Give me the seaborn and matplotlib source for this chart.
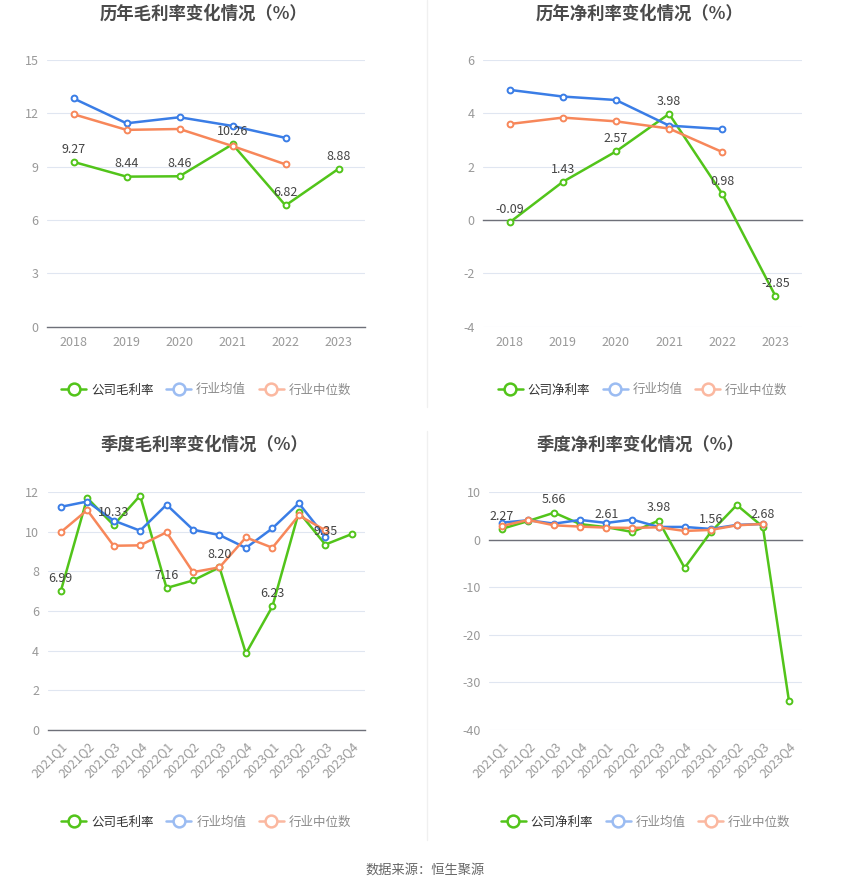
import matplotlib
matplotlib.use("Agg")
import matplotlib.pyplot as plt
from matplotlib.lines import Line2D
import seaborn as sns
import pandas as pd

years = ["2018", "2019", "2020", "2021", "2022", "2023"]
quarters = ["2021Q1", "2021Q2", "2021Q3", "2021Q4",
            "2022Q1", "2022Q2", "2022Q3", "2022Q4",
            "2023Q1", "2023Q2", "2023Q3", "2023Q4"]

# annual gross margin
gross_company = [9.27, 8.44, 8.46, 10.26, 6.82, 8.88]
gross_mean = [12.84, 11.44, 11.78, 11.29, 10.62]
gross_median = [11.95, 11.07, 11.12, 10.16, 9.13]

# annual net margin
net_company = [-0.09, 1.43, 2.57, 3.98, 0.98, -2.85]
net_mean = [4.88, 4.63, 4.50, 3.54, 3.41]
net_median = [3.60, 3.84, 3.70, 3.43, 2.55]

# quarterly gross margin
q_gross_company = [6.99, 11.70, 10.33, 11.82, 7.16, 7.54, 8.20, 3.86, 6.23, 10.99, 9.35, 9.88]
q_gross_mean = [11.25, 11.52, 10.56, 10.05, 11.36, 10.10, 9.83, 9.18, 10.17, 11.43, 9.75]
q_gross_median = [9.97, 11.09, 9.29, 9.31, 9.97, 7.96, 8.20, 9.71, 9.19, 10.82, 10.07]

# quarterly net margin
q_net_company = [2.27, 3.90, 5.66, 3.25, 2.61, 1.60, 3.98, -5.94, 1.56, 7.27, 2.68, -33.90]
q_net_mean = [3.57, 4.06, 3.36, 4.13, 3.50, 4.20, 2.66, 2.66, 2.24, 3.08, 3.29]
q_net_median = [2.87, 4.13, 3.00, 2.73, 2.52, 2.45, 2.59, 1.82, 2.03, 3.00, 3.29]

GREEN = "#52c41a"
BLUE = "#3a7de6"
ORANGE = "#f7875a"

sns.set_style("white")
plt.rcParams['font.family'] = ['Noto Sans CJK SC', 'DejaVu Sans']
plt.rcParams['axes.unicode_minus'] = False

W, H = 850, 891
fig = plt.figure(figsize=(W / 100, H / 100), dpi=100)


def box(left, top, right, bottom):
    return [left / W, 1 - bottom / H, (right - left) / W, (bottom - top) / H]


def panel(rect, periods, company, mean, median, names, yticks, labeled, rotate, legend_y):
    ax = fig.add_axes(rect)
    rows = []
    for name, vals in zip(names, [company, mean, median]):
        for p, v in zip(periods, vals):
            rows.append({"period": p, "value": v, "series": name})
    df = pd.DataFrame(rows)
    sns.lineplot(data=df, x="period", y="value", hue="series",
                 palette=[GREEN, BLUE, ORANGE], marker="o", markersize=4.2,
                 markerfacecolor="white", markeredgewidth=1.4, linewidth=1.8,
                 errorbar=None, sort=False, legend=False, ax=ax)
    for ln in ax.lines:
        ln.set_markeredgecolor(ln.get_color())
        ln.set_markerfacecolor("white")
    n = len(periods)
    ax.set_xlim(-0.5, n - 0.5)
    ax.set_ylim(yticks[0], yticks[-1])
    ax.set_yticks(yticks)
    ax.set_yticklabels([str(t) for t in yticks], color="#999999", fontsize=9)
    ax.tick_params(axis="y", length=0, pad=6)
    ax.grid(axis="y", color="#e0e6f1", linewidth=0.8)
    ax.set_axisbelow(True)
    for s in ["top", "right", "left"]:
        ax.spines[s].set_visible(False)
    ax.spines["bottom"].set_position(("data", 0))
    ax.spines["bottom"].set_color("#6e7079")
    ax.spines["bottom"].set_linewidth(1.0)
    ax.spines["bottom"].set_zorder(1.5)
    ax.set_xticks(range(n))
    ax.set_xticklabels([])
    ax.tick_params(axis="x", length=5, width=1, color="#6e7079", direction="out")
    ax.set_xlabel("")
    ax.set_ylabel("")

    sec = ax.secondary_xaxis(0)
    sec.set_xticks(range(n))
    if rotate:
        sec.set_xticklabels(periods, rotation=45, ha="right", rotation_mode="anchor",
                            color="#999999", fontsize=9)
    else:
        sec.set_xticklabels(periods, color="#999999", fontsize=9)
    sec.tick_params(length=0, pad=7)
    sec.spines["bottom"].set_visible(False)

    for i in labeled:
        ax.annotate(f"{company[i]:.2f}", (i, company[i]), xytext=(0, 4.5),
                    textcoords="offset points", ha="center", va="bottom",
                    fontsize=9, color="#444444", zorder=5)

    handles = [Line2D([], [], color=c, marker="o", markersize=8.5, markerfacecolor="white",
                      markeredgewidth=1.8, linewidth=1.8)
               for c in [GREEN, "#9bbcf2", "#fbb8a0"]]
    leg = ax.legend(handles, names, loc="center", bbox_to_anchor=(0.5, legend_y),
                    ncol=3, frameon=False, fontsize=9, handlelength=2.0,
                    handletextpad=0.4, columnspacing=1.0)
    for t, c in zip(leg.get_texts(), ["#333333", "#8c8c8c", "#8c8c8c"]):
        t.set_color(c)
    return ax


panel(box(47, 60, 365, 326.7), years, gross_company, gross_mean, gross_median,
      ["公司毛利率", "行业均值", "行业中位数"], [0, 3, 6, 9, 12, 15],
      range(6), False, -0.237)
panel(box(483, 60, 802, 326.7), years, net_company, net_mean, net_median,
      ["公司净利率", "行业均值", "行业中位数"], [-4, -2, 0, 2, 4, 6],
      range(6), False, -0.237)
panel(box(47.5, 492, 365, 730), quarters, q_gross_company, q_gross_mean, q_gross_median,
      ["公司毛利率", "行业均值", "行业中位数"], [0, 2, 4, 6, 8, 10, 12],
      range(0, 12, 2), True, -0.387)
panel(box(489, 492, 802, 730), quarters, q_net_company, q_net_mean, q_net_median,
      ["公司净利率", "行业均值", "行业中位数"], [-40, -30, -20, -10, 0, 10],
      range(0, 12, 2), True, -0.387)

title_kw = dict(ha="center", va="center", fontsize=12.5, fontweight="bold", color="#4a4a4a")
fig.text(204 / W, 1 - 14 / H, "历年毛利率变化情况（%）", **title_kw)
fig.text(640 / W, 1 - 14 / H, "历年净利率变化情况（%）", **title_kw)
fig.text(204 / W, 1 - 445 / H, "季度毛利率变化情况（%）", **title_kw)
fig.text(640 / W, 1 - 445 / H, "季度净利率变化情况（%）", **title_kw)
fig.text(425 / W, 1 - 870 / H, "数据来源：恒生聚源", ha="center", va="center",
         fontsize=9.5, color="#666666")

fig.add_artist(Line2D([427 / W, 427 / W], [1 - 0 / H, 1 - 407 / H], color="#f0f0f0", linewidth=1))
fig.add_artist(Line2D([427 / W, 427 / W], [1 - 431 / H, 1 - 840 / H], color="#f0f0f0", linewidth=1))

fig.savefig("out.png", dpi=100)
